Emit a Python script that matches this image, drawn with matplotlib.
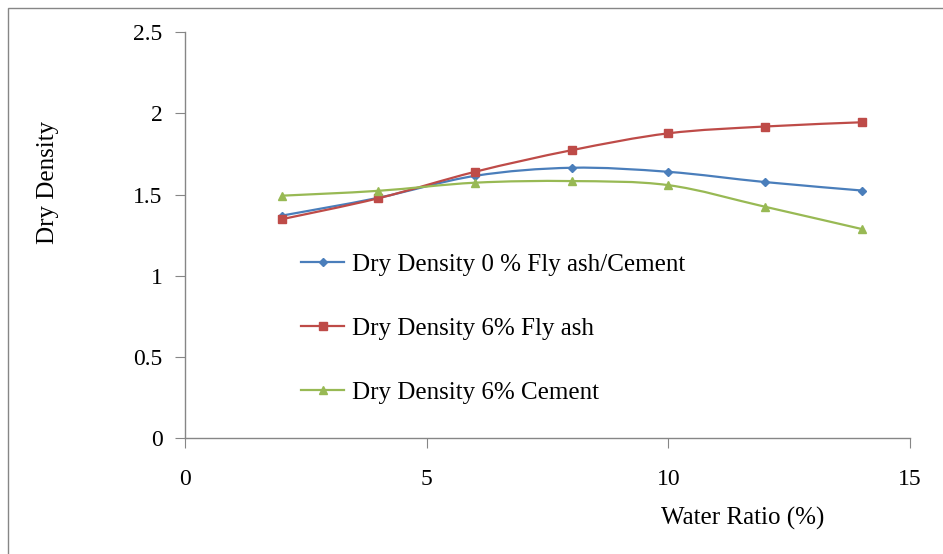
import numpy as np
import matplotlib
matplotlib.use("Agg")
import matplotlib.pyplot as plt
from matplotlib.path import Path
from matplotlib.patches import PathPatch, Rectangle
from matplotlib.lines import Line2D

plt.rcParams['font.family'] = ['Liberation Serif', 'DejaVu Serif']

# data
water_ratio = [2, 4, 6, 8, 10, 12, 14]
dd_plain = [1.37, 1.48, 1.615, 1.665, 1.64, 1.577, 1.525]
dd_flyash = [1.348, 1.477, 1.64, 1.773, 1.877, 1.919, 1.945]
dd_cement = [1.493, 1.523, 1.573, 1.583, 1.558, 1.425, 1.288]
labels = ["Dry Density 0 % Fly ash/Cement", "Dry Density 6% Fly ash", "Dry Density 6% Cement"]

colors = ["#4A7EBB", "#BE4B48", "#98B954"]
markers = ["D", "s", "^"]
msizes = [4, 6, 6]


def smooth_path(xs, ys, t=1/6.):
    # excel style smoothed line: cubic bezier through the points
    pts = np.column_stack([xs, ys]).astype(float)
    verts = [pts[0]]
    codes = [Path.MOVETO]
    n = len(pts)
    for i in range(n - 1):
        p0 = pts[i - 1] if i > 0 else pts[i]
        p1 = pts[i]
        p2 = pts[i + 1]
        p3 = pts[i + 2] if i + 2 < n else pts[i + 1]
        c1 = p1 + (p2 - p0) * t
        c2 = p2 - (p3 - p1) * t
        verts += [c1, c2, p2]
        codes += [Path.CURVE4] * 3
    return Path(verts, codes)


fig = plt.figure(figsize=(9.43, 5.54), dpi=100)
ax = fig.add_axes([0.196, 0.209, 0.769, 0.733])

series = [dd_plain, dd_flyash, dd_cement]
handles = []
for ys, c, m, ms, lab in zip(series, colors, markers, msizes, labels):
    ax.add_patch(PathPatch(smooth_path(water_ratio, ys), fill=False, edgecolor=c, lw=1.6))
    ax.plot(water_ratio, ys, ls='none', marker=m, ms=ms, color=c)
    handles.append(Line2D([], [], color=c, lw=1.6, marker=m, ms=ms, label=lab))

ax.set_xlim(0, 15)
ax.set_ylim(0, 2.5)
ax.set_xticks([0, 5, 10, 15])
ax.set_yticks([0, 0.5, 1, 1.5, 2, 2.5])
ax.set_yticklabels(["0", "0.5", "1", "1.5", "2", "2.5"])

for s in ["top", "right"]:
    ax.spines[s].set_visible(False)
for s in ["left", "bottom"]:
    ax.spines[s].set_color("#868686")
    ax.spines[s].set_linewidth(1.0)
ax.tick_params(axis="both", direction="out", length=7, color="#868686", labelsize=17)
ax.tick_params(axis="x", pad=15)
ax.tick_params(axis="y", pad=9)

ax.set_xlabel("Water Ratio (%)", fontsize=18)
ax.xaxis.set_label_coords(0.769, -0.17)
ax.set_ylabel("Dry Density", fontsize=18)
ax.yaxis.set_label_coords(-0.174, 0.63)

ax.legend(handles=handles, loc="upper left", bbox_to_anchor=(0.147, 0.479), frameon=False,
          fontsize=18, labelspacing=1.65, handlelength=1.72, handletextpad=0.3,
          borderaxespad=0)

fig.patches.append(Rectangle((0.008, -0.1), 1.2, 1.1 - 0.014, transform=fig.transFigure,
                             fill=False, edgecolor="#868686", lw=1.0))

fig.savefig("out.png", dpi=100)
